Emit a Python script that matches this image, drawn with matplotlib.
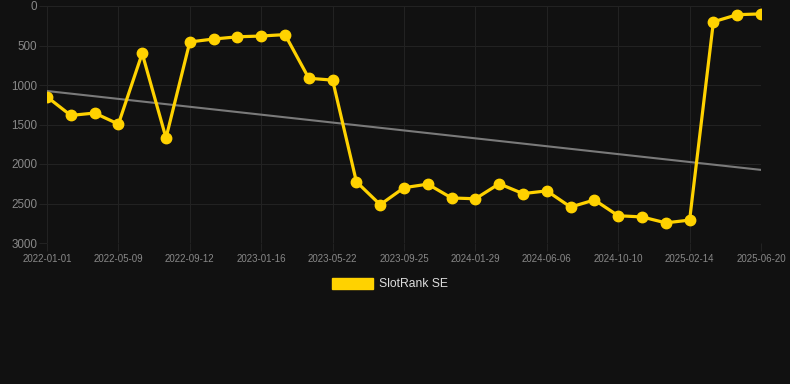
import matplotlib
matplotlib.use("Agg")
import matplotlib.pyplot as plt
import numpy as np

plt.rcParams['font.family'] = ['Liberation Sans', 'DejaVu Sans']

tick_labels = ['2022-01-01', '2022-05-09', '2022-09-12', '2023-01-16', '2023-05-22',
               '2023-09-25', '2024-01-29', '2024-06-06', '2024-10-10', '2025-02-14',
               '2025-06-20']
ranks = [1150, 1385, 1355, 1495, 600, 1670, 455, 418, 390, 380, 362,
         915, 938, 2225, 2515, 2300, 2255, 2430, 2440, 2250, 2375,
         2340, 2545, 2455, 2655, 2670, 2745, 2710, 200, 110, 100]
series_name = 'SlotRank SE'

bg = '#111111'
grid_c = '#222222'
text_c = '#888888'
yellow = '#FFD200'

fig = plt.figure(figsize=(7.9, 3.84), dpi=100)
fig.patch.set_facecolor(bg)
ax = fig.add_axes([47/790, 1-243/384, 714/790, 237/384])
ax.set_facecolor(bg)

# trend line through the ranks
x = np.arange(len(ranks))
k, b = np.polyfit(x, ranks, 1)
ax.plot(x, k*x + b, color='#7a7a7a', lw=1.5, zorder=2)
ax.plot(x, ranks, color=yellow, lw=2.3, marker='o', ms=7.5, zorder=3, label=series_name)

ax.set_xlim(0, len(ranks)-1)
ax.set_ylim(3000, 0)
ax.set_yticks([0, 500, 1000, 1500, 2000, 2500, 3000])
ax.set_xticks(x[::3])
ax.set_xticklabels(tick_labels)
ax.grid(True, color=grid_c, lw=0.8)
for s in ax.spines.values():
    s.set_visible(False)
ax.tick_params(axis='both', colors=grid_c, length=5.5, width=0.8)
ax.tick_params(axis='y', labelcolor=text_c, labelsize=8.4, pad=1.5)
ax.tick_params(axis='x', labelcolor=text_c, labelsize=7, pad=2.5)

leg = fig.legend(handles=[plt.Rectangle((0, 0), 1, 1, color=yellow)], labels=[series_name],
                 loc='center', bbox_to_anchor=(390/790, 1-284/384), frameon=False,
                 handlelength=3.4, handleheight=1.0, handletextpad=0.5,
                 fontsize=8.7, labelcolor='#dddddd')

fig.savefig('out.png', dpi=100, facecolor=bg)
